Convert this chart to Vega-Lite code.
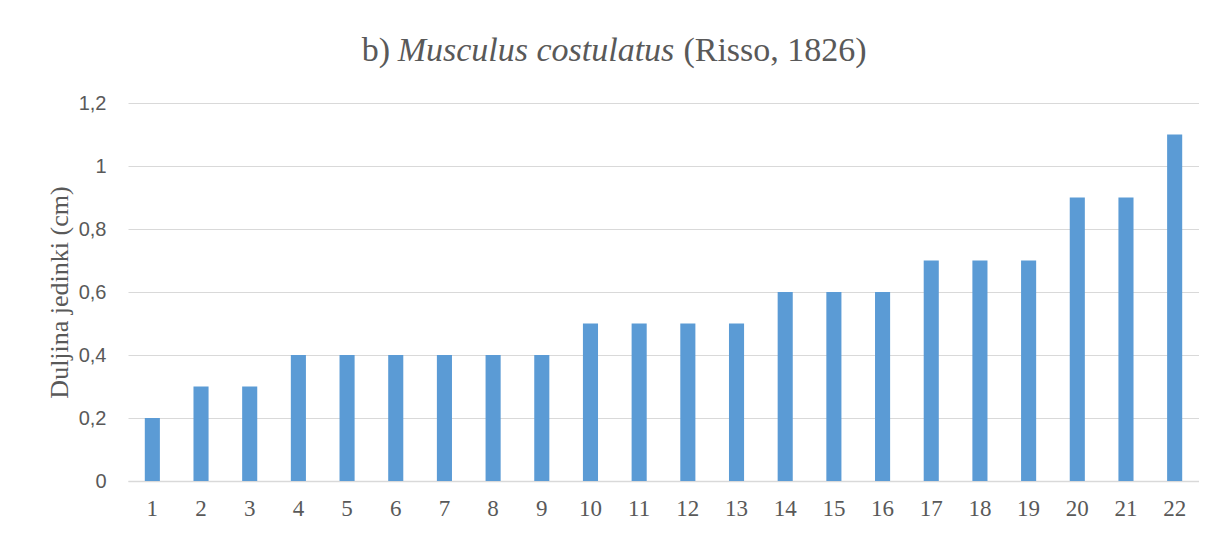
{
  "$schema": "https://vega.github.io/schema/vega-lite/v6.json",
  "padding": {"left": 46, "top": 34, "right": 0, "bottom": 0},
  "background": "white",
  "config": {
    "view": {"stroke": null},
    "title": {"font": "Liberation Serif", "fontSize": 34, "fontWeight": "normal", "color": "#595959", "offset": 0, "anchor": "middle"}
  },
  "center": true,
  "spacing": 20,
  "vconcat": [
    {
      "spacing": 8,
      "hconcat": [
        {
          "spacing": 7,
          "hconcat": [
            {"title": {"text": "b)"}, "width": 1, "height": 1, "data": {"values": []}, "mark": "point", "encoding": {}},
            {"title": {"text": "Musculus costulatus", "fontStyle": "italic"}, "width": 1, "height": 1, "data": {"values": []}, "mark": "point", "encoding": {}}
          ]
        },
        {"title": {"text": "(Risso, 1826)"}, "width": 1, "height": 1, "data": {"values": []}, "mark": "point", "encoding": {}},
        {"width": 76, "height": 1, "data": {"values": []}, "mark": "point", "encoding": {}}
      ]
    },
    {
      "width": 1071,
      "height": 378,
      "data": {"values": [
        {"n": 1, "v": 0.2}, {"n": 2, "v": 0.3}, {"n": 3, "v": 0.3}, {"n": 4, "v": 0.4},
        {"n": 5, "v": 0.4}, {"n": 6, "v": 0.4}, {"n": 7, "v": 0.4}, {"n": 8, "v": 0.4},
        {"n": 9, "v": 0.4}, {"n": 10, "v": 0.5}, {"n": 11, "v": 0.5}, {"n": 12, "v": 0.5},
        {"n": 13, "v": 0.5}, {"n": 14, "v": 0.6}, {"n": 15, "v": 0.6}, {"n": 16, "v": 0.6},
        {"n": 17, "v": 0.7}, {"n": 18, "v": 0.7}, {"n": 19, "v": 0.7}, {"n": 20, "v": 0.9},
        {"n": 21, "v": 0.9}, {"n": 22, "v": 1.1}
      ]},
      "mark": {"type": "bar", "color": "#5B9BD5"},
      "encoding": {
        "x": {
          "field": "n", "type": "ordinal", "title": null,
          "scale": {"paddingInner": 0.69, "paddingOuter": 0.345},
          "axis": {"labelAngle": 0, "labelFont": "Liberation Serif", "labelFontSize": 23, "labelColor": "#595959",
                   "ticks": false, "labelPadding": 16, "domainColor": "#d9d9d9", "domainWidth": 1.5}
        },
        "y": {
          "field": "v", "type": "quantitative", "title": "Duljina jedinki (cm)",
          "scale": {"domain": [0, 1.2], "nice": false},
          "axis": {"values": [0, 0.2, 0.4, 0.6, 0.8, 1, 1.2],
                   "labelExpr": "replace(format(datum.value, '.2~f'), '.', ',')",
                   "labelFont": "Liberation Sans", "labelFontSize": 20, "labelColor": "#595959", "labelPadding": 22,
                   "ticks": false, "domain": false, "gridColor": "#d9d9d9", "gridWidth": 1,
                   "titleFont": "Liberation Serif", "titleFontSize": 26, "titleFontWeight": "normal", "titleColor": "#595959",
                   "titlePadding": 6}
        }
      }
    }
  ]
}
